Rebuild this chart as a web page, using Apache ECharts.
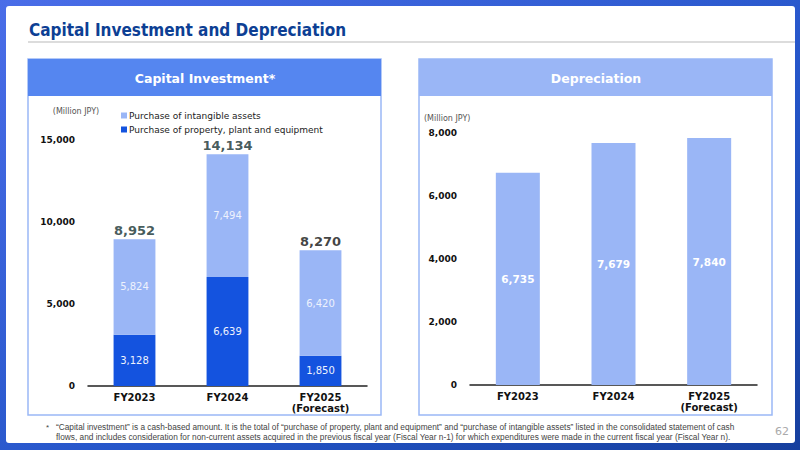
<!DOCTYPE html>
<html>
<head>
<meta charset="utf-8">
<script src="https://cdn.jsdelivr.net/npm/echarts@6/dist/echarts.min.js"></script>
<style>
	html, body { margin: 0; padding: 0; }
	#main { width: 800px; height: 450px; }
</style>
</head>
<body>
<div id="main"></div>
<script>
// 데이터
var years = ['FY2023', 'FY2024', 'FY2025\n(Forecast)'];
var ppeValues = [3128, 6639, 1850];
var intangibleValues = [5824, 7494, 6420];
var capexTotals = [8952, 14134, 8270];
var depreciationValues = [6735, 7679, 7840];
var capexTicks = [0, 5000, 10000, 15000];
var deprTicks = [0, 2000, 4000, 6000, 8000];

var fontFamily = '"DejaVu Sans", Verdana, sans-serif';
var noteFont = '"Liberation Sans", Arial, sans-serif';

function numberWithCommas(x) {
	return x.toString().replace(/\B(?=(\d{3})+(?!\d))/g, ",");
}

function yAxisOf(gridIndex, ticks) {
	return {
		type: 'value',
		gridIndex: gridIndex,
		min: ticks[0],
		max: ticks[ticks.length - 1],
		interval: ticks[1] - ticks[0],
		splitLine: { show: false },
		axisLine: { show: false },
		axisTick: { show: false },
		axisLabel: {
			margin: 13,
			color: '#111',
			fontWeight: 'bold',
			fontSize: 9,
			fontFamily: fontFamily,
			formatter: function(v) { return numberWithCommas(v); }
		}
	};
}

function xAxisOf(gridIndex) {
	return {
		type: 'category',
		gridIndex: gridIndex,
		data: years,
		axisTick: { show: false },
		axisLine: { lineStyle: { color: '#222', width: 1.5 } },
		axisLabel: {
			margin: 6,
			color: '#111',
			fontWeight: 'bold',
			fontSize: 10,
			lineHeight: 11,
			fontFamily: fontFamily
		}
	};
}

var innerLabel = {
	show: true,
	position: 'inside',
	color: '#eef2fd',
	fontSize: 10,
	fontFamily: fontFamily,
	formatter: function(p) { return numberWithCommas(p.value); }
};

var chart = echarts.init(document.getElementById('main'), null, { renderer: 'svg' });
var option = {
	animation: false,
	backgroundColor: '#fff',
	graphic: [
		// 배경 프레임
		{ type: 'rect', z: -10, shape: { x: 0, y: 0, width: 800, height: 450 },
			style: { fill: new echarts.graphic.LinearGradient(0, 0, 1, 1, [
				{ offset: 0, color: '#4a6de8' }, { offset: 0.6, color: '#2455c8' }, { offset: 1, color: '#163f9e' }
			]) } },
		{ type: 'rect', z: -9, shape: { x: 6, y: 6, width: 789, height: 437, r: 3 }, style: { fill: '#fff' } },
		// 제목
		{ type: 'text', x: 29, y: 30, style: { text: 'Capital Investment and Depreciation', fill: '#0d3f94', font: 'bold 17px "DejaVu Sans Condensed", "DejaVu Sans", sans-serif', verticalAlign: 'middle' } },
		{ type: 'rect', shape: { x: 28, y: 41, width: 767, height: 2 }, style: { fill: '#dcdcdc' } },
		// 패널
		{ type: 'rect', z: -5, shape: { x: 28, y: 59, width: 353, height: 356 }, style: { fill: '#fff', stroke: '#9ab8f6', lineWidth: 1.5 } },
		{ type: 'rect', z: -4, shape: { x: 28, y: 59, width: 353, height: 37 }, style: { fill: '#5586f0' } },
		{ type: 'text', x: 205, y: 78, style: { text: 'Capital Investment*', fill: '#fff', font: 'bold 12.5px ' + fontFamily, align: 'center', verticalAlign: 'middle' } },
		{ type: 'rect', z: -5, shape: { x: 419, y: 59, width: 353, height: 356 }, style: { fill: '#fff', stroke: '#9ab8f6', lineWidth: 1.5 } },
		{ type: 'rect', z: -4, shape: { x: 419, y: 59, width: 353, height: 37 }, style: { fill: '#9ab6f6' } },
		{ type: 'text', x: 596, y: 78, style: { text: 'Depreciation', fill: '#fff', font: 'bold 12.5px ' + fontFamily, align: 'center', verticalAlign: 'middle' } },
		// 단위
		{ type: 'text', x: 76, y: 111, style: { text: '(Million JPY)', fill: '#555', font: '8px ' + fontFamily, align: 'center', verticalAlign: 'middle' } },
		{ type: 'text', x: 424, y: 118, style: { text: '(Million JPY)', fill: '#555', font: '8px ' + fontFamily, align: 'left', verticalAlign: 'middle' } },
		// 각주
		{ type: 'text', x: 46, y: 427, style: { text: '*', fill: '#444', font: '8px ' + noteFont, verticalAlign: 'middle' } },
		{ type: 'text', x: 56, y: 427, style: { text: '\u201cCapital investment\u201d is a cash-based amount. It is the total of \u201cpurchase of property, plant and equipment\u201d and \u201cpurchase of intangible assets\u201d listed in the consolidated statement of cash', fill: '#444', font: '8.3px ' + noteFont, verticalAlign: 'middle' } },
		{ type: 'text', x: 56, y: 437, style: { text: 'flows, and includes consideration for non-current assets acquired in the previous fiscal year (Fiscal Year n-1) for which expenditures were made in the current fiscal year (Fiscal Year n).', fill: '#444', font: '8.3px ' + noteFont, verticalAlign: 'middle' } },
		{ type: 'text', x: 782, y: 431, style: { text: '62', fill: '#aaa', font: '11px ' + fontFamily, align: 'center', verticalAlign: 'middle' } }
	],
	legend: {
		left: 116,
		top: 106,
		orient: 'vertical',
		itemWidth: 6,
		itemHeight: 6,
		itemGap: 5,
		icon: 'rect',
		textStyle: { fontSize: 9, color: '#222', fontFamily: fontFamily, padding: [0, 0, 0, -3] },
		data: ['Purchase of intangible assets', 'Purchase of property, plant and equipment']
	},
	grid: [
		{ left: 88, right: 433, top: 140, bottom: 64 },
		{ left: 470, right: 43, top: 133, bottom: 65 }
	],
	xAxis: [xAxisOf(0), xAxisOf(1)],
	yAxis: [yAxisOf(0, capexTicks), yAxisOf(1, deprTicks)],
	series: [
		{
			name: 'Purchase of property, plant and equipment',
			type: 'bar',
			stack: 'capex',
			xAxisIndex: 0, yAxisIndex: 0,
			barWidth: '45%',
			itemStyle: { color: '#1453df' },
			label: innerLabel,
			data: ppeValues
		},
		{
			name: 'Purchase of intangible assets',
			type: 'bar',
			stack: 'capex',
			xAxisIndex: 0, yAxisIndex: 0,
			barWidth: '45%',
			itemStyle: { color: '#9ab6f6' },
			label: innerLabel,
			data: intangibleValues
		},
		{
			name: 'total',
			type: 'scatter',
			xAxisIndex: 0, yAxisIndex: 0,
			symbolSize: 0,
			silent: true,
			label: {
				show: true,
				position: 'top',
				distance: 2,
				fontSize: 13,
				fontWeight: 'bold',
				fontFamily: fontFamily,
				formatter: function(p) { return numberWithCommas(p.value); }
			},
			data: capexTotals.map(function(v, i) {
				return { value: v, label: { color: i < 2 ? '#143030' : '#111' } };
			})
		},
		{
			name: 'Depreciation',
			type: 'bar',
			xAxisIndex: 1, yAxisIndex: 1,
			barWidth: '46%',
			itemStyle: { color: '#9ab6f6' },
			label: {
				show: true,
				position: 'inside',
				color: '#fff',
				fontSize: 10.5,
				fontWeight: 'bold',
				fontFamily: fontFamily,
				formatter: function(p) { return numberWithCommas(p.value); }
			},
			data: depreciationValues
		}
	]
};
chart.setOption(option);
</script>
</body>
</html>
